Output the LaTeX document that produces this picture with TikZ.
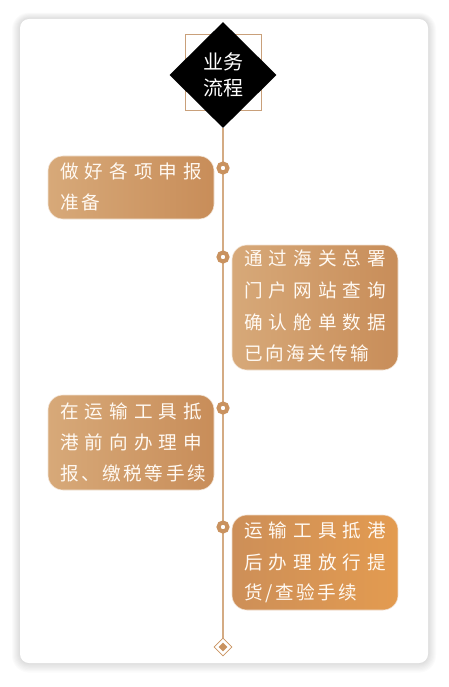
\documentclass[tikz,border=0pt]{standalone}
\usepackage{fontspec}
\setmainfont{Noto Sans CJK SC}
\usetikzlibrary{shapes.geometric}
\definecolor{ringc}{HTML}{C9925F}
\definecolor{spinec}{HTML}{D4AB83}
\definecolor{sqc}{HTML}{C9A07A}
\definecolor{bL}{HTML}{D7A979}
\definecolor{bR}{HTML}{C88D59}
\definecolor{dL}{HTML}{CD8F58}
\definecolor{dR}{HTML}{E39B50}
\definecolor{txtc}{HTML}{FFF9F2}
\newcommand{\gp}{\hspace{2.6pt}}
\newcommand{\fl}[1]{\makebox[142pt][s]{#1}}
\tikzset{
  box/.style={rectangle, rounded corners=15pt, inner sep=0pt, minimum width=166pt, left color=bL, right color=bR, draw=white!70!bL, line width=0.6pt},
  box4/.style={box, left color=dL, right color=dR, draw=white!70!dL},
  txt/.style={anchor=west, inner sep=0pt, text=txtc, font=\fontsize{18.6}{18.6}\selectfont},
  ring/.style={circle, draw=ringc, line width=4pt, fill=white, minimum size=9pt, inner sep=0pt},
  spine/.style={draw=spinec, line width=1.5pt},
  htxt/.style={inner sep=0pt, text=white, font=\fontsize{20}{20}\selectfont}
}
\begin{document}
\begin{tikzpicture}[x=1pt,y=-1pt]
\useasboundingbox (0,0) rectangle (449,687);
\fill[white] (0,0) rectangle (449,687);
% card shadow
\foreach \i in {1,...,8}
  \fill[black, opacity=0.014, rounded corners={(9+\i)*1pt}] (20-\i,19-0.8*\i) rectangle (428+\i,663+1.2*\i);
\node[rectangle, rounded corners=9pt, fill=white, minimum width=408pt, minimum height=644pt, inner sep=0pt] (card) at (224,341) {};
% header
\node[rectangle, draw=sqc, line width=1pt, minimum size=76pt, inner sep=0pt] (sq) at (223,73) {};
\node[diamond, fill=black, aspect=1, minimum width=107pt, minimum height=106pt, inner sep=0pt] (hd) at (223,75) {};
\node[htxt] (h1) at (223,62) {业务};
\node[htxt] (h2) at (223,88) {流程};
% end mark
\node[diamond, draw=ringc, line width=0.8pt, fill=white, aspect=1, minimum size=18pt, inner sep=0pt] (end) at (223,647) {};
\node[diamond, fill=ringc, aspect=1, minimum size=9pt, inner sep=0pt] (endin) at (end) {};
% spine
\coordinate (c1p) at (223,168);
\coordinate (c2p) at (223,257);
\coordinate (c3p) at (223,408);
\coordinate (c4p) at (223,527);
\draw[spine] (hd.south) -- (end.north);
\node[ring] (c1) at (c1p) {};
\node[ring] (c2) at (c2p) {};
\node[ring] (c3) at (c3p) {};
\node[ring] (c4) at (c4p) {};
% box 1
\node[box, minimum height=63pt] (b1) at (131,187.5) {};
\node[txt] (b1a) at (60,171) {\fl{做\hfill 好\hfill 各\hfill 项\hfill 申\hfill 报}};
\node[txt] (b1b) at (60,202) {准\gp 备};
% box 2
\node[box, minimum height=125pt] (b2) at (315,307.5) {};
\node[txt] (b2a) at (244,258) {\fl{通\hfill 过\hfill 海\hfill 关\hfill 总\hfill 署}};
\node[txt] (b2b) at (244,290) {\fl{门\hfill 户\hfill 网\hfill 站\hfill 查\hfill 询}};
\node[txt] (b2c) at (244,322) {\fl{确\hfill 认\hfill 舱\hfill 单\hfill 数\hfill 据}};
\node[txt] (b2d) at (244,353) {已\gp 向\gp 海\gp 关\gp 传\gp 输};
% box 3
\node[box, minimum height=95pt] (b3) at (131,442.5) {};
\node[txt] (b3a) at (60,411) {\fl{在\hfill 运\hfill 输\hfill 工\hfill 具\hfill 抵}};
\node[txt] (b3b) at (60,442) {\fl{港\hfill 前\hfill 向\hfill 办\hfill 理\hfill 申}};
\node[txt] (b3c) at (60,473) {报\gp 、\gp 缴\gp 税\gp 等\gp 手\gp 续};
% box 4
\node[box4, minimum height=95pt] (b4) at (315,562.5) {};
\node[txt] (b4a) at (244,530) {\fl{运\hfill 输\hfill 工\hfill 具\hfill 抵\hfill 港}};
\node[txt] (b4b) at (244,562) {\fl{后\hfill 办\hfill 理\hfill 放\hfill 行\hfill 提}};
\node[txt] (b4c) at (244,593) {货\gp /\gp 查\gp 验\gp 手\gp 续};
\end{tikzpicture}
\end{document}
